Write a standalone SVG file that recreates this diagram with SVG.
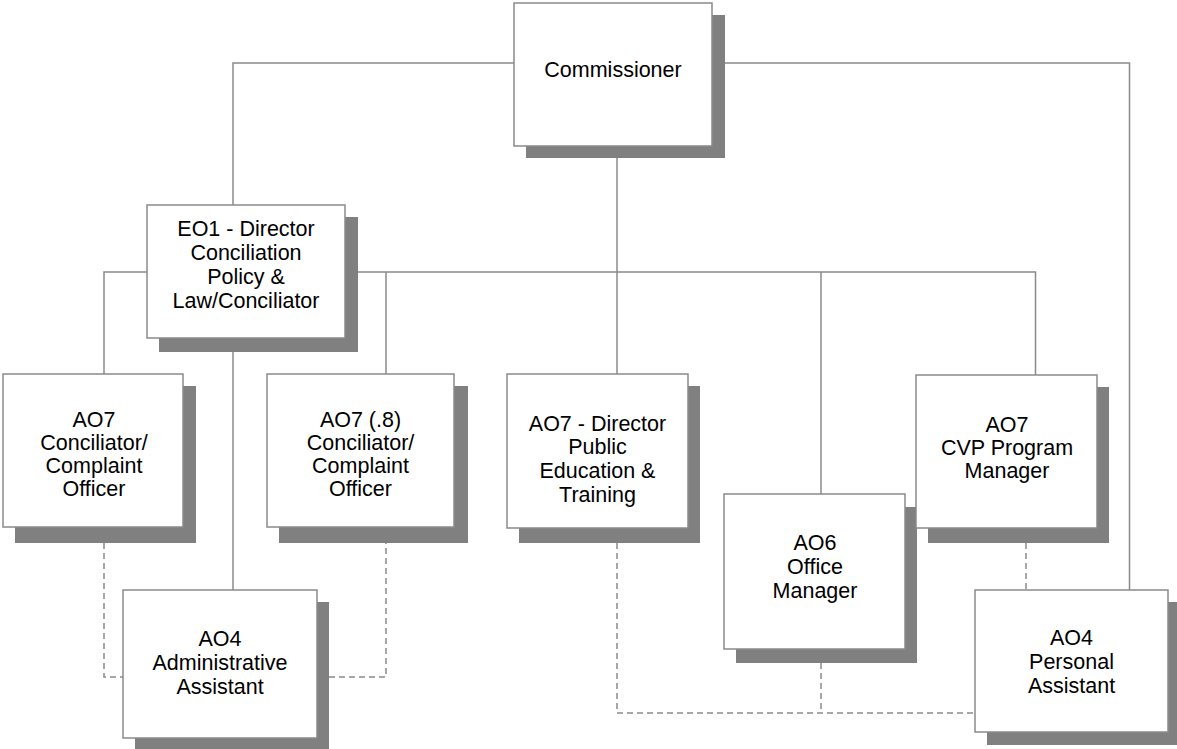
<svg xmlns="http://www.w3.org/2000/svg" width="1177" height="749" viewBox="0 0 1177 749">
<style>
.shadow{fill:#808080;stroke:none}
.box{fill:#fff;stroke:#8a8a8a;stroke-width:1.5}
.line{fill:none;stroke:#8a8a8a;stroke-width:1.5}
.dash{fill:none;stroke:#8a8a8a;stroke-width:1.5;stroke-dasharray:6 4}
text{font-family:"Liberation Sans",Arial,sans-serif;font-size:21.5px;fill:#000;text-anchor:middle}
</style>
<rect width="1177" height="749" fill="#fff"/>
<g id="connectors">
<path class="line" d="M514,63 H233 V205"/>
<path class="line" d="M712,63 H1129.5 V590"/>
<path class="line" d="M617,146 V374"/>
<path class="line" d="M345,272 H1035.5 V375"/>
<path class="line" d="M386,272 V374"/>
<path class="line" d="M821,272 V494"/>
<path class="line" d="M147,272 H104 V374"/>
<path class="line" d="M233,338 V590"/>
<path class="dash" d="M104,543 V677 H123"/>
<path class="dash" d="M329,677 H386 V543"/>
<path class="dash" d="M617,543 V713 H975"/>
<path class="dash" d="M821,663 V713"/>
<path class="dash" d="M1026,543 V590"/>
</g>
<g id="commissioner">
<rect class="shadow" x="526" y="15" width="199" height="143"/>
<rect class="box" x="514" y="3" width="198" height="143"/>
<text x="613" y="77">Commissioner</text>
</g>
<g id="eo1-director">
<rect class="shadow" x="159" y="217" width="199" height="135"/>
<rect class="box" x="147" y="205" width="198" height="133"/>
<text x="246" y="236">EO1 - Director</text>
<text x="246" y="260">Conciliation</text>
<text x="246" y="284">Policy &amp;</text>
<text x="246" y="308">Law/Conciliator</text>
</g>
<g id="ao7-conciliator">
<rect class="shadow" x="15" y="386" width="181" height="157"/>
<rect class="box" x="3" y="374" width="180" height="153"/>
<text x="94" y="427">AO7</text>
<text x="94" y="450">Conciliator/</text>
<text x="94" y="473">Complaint</text>
<text x="94" y="496">Officer</text>
</g>
<g id="ao7-8-conciliator">
<rect class="shadow" x="279" y="386" width="189" height="157"/>
<rect class="box" x="267" y="374" width="187" height="153"/>
<text x="360.5" y="427">AO7 (.8)</text>
<text x="360.5" y="450">Conciliator/</text>
<text x="360.5" y="473">Complaint</text>
<text x="360.5" y="496">Officer</text>
</g>
<g id="ao7-director-public-education">
<rect class="shadow" x="519" y="386" width="181" height="157"/>
<rect class="box" x="507" y="374" width="181" height="154"/>
<text x="597.5" y="431">AO7 - Director</text>
<text x="597.5" y="454">Public</text>
<text x="597.5" y="478">Education &amp;</text>
<text x="597.5" y="502">Training</text>
</g>
<g id="ao6-office-manager">
<rect class="shadow" x="736" y="507" width="181" height="156"/>
<rect class="box" x="724" y="494" width="181" height="155"/>
<text x="815" y="550">AO6</text>
<text x="815" y="574">Office</text>
<text x="815" y="598">Manager</text>
</g>
<g id="ao7-cvp-program-manager">
<rect class="shadow" x="928" y="387" width="181" height="156"/>
<rect class="box" x="916" y="375" width="181" height="153"/>
<text x="1007" y="432">AO7</text>
<text x="1007" y="455">CVP Program</text>
<text x="1007" y="478">Manager</text>
</g>
<g id="ao4-administrative-assistant">
<rect class="shadow" x="135" y="602" width="194" height="150"/>
<rect class="box" x="123" y="590" width="194" height="148"/>
<text x="220" y="646">AO4</text>
<text x="220" y="670">Administrative</text>
<text x="220" y="694">Assistant</text>
</g>
<g id="ao4-personal-assistant">
<rect class="shadow" x="987" y="602" width="194" height="143"/>
<rect class="box" x="975" y="590" width="193" height="142"/>
<text x="1071.5" y="645">AO4</text>
<text x="1071.5" y="669">Personal</text>
<text x="1071.5" y="693">Assistant</text>
</g>
</svg>
